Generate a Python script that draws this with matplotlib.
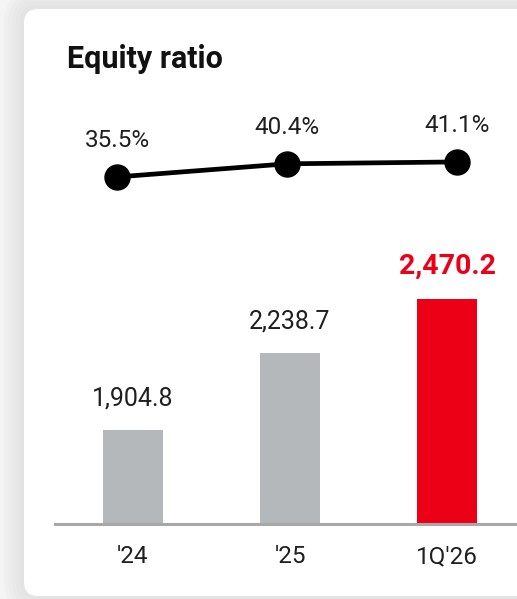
import matplotlib
matplotlib.use("Agg")
import matplotlib.pyplot as plt
from matplotlib.patches import FancyBboxPatch

plt.rcParams['font.family'] = ['Roboto', 'DejaVu Sans']

periods = ["'24", "'25", "1Q'26"]
equity = [1904.8, 2238.7, 2470.2]
equity_ratio = [35.5, 40.4, 41.1]

GRAY = '#b5b8ba'
RED = '#ec0016'
TEXT = '#1f1f1f'

W, H = 517, 599
fig = plt.figure(figsize=(W / 100, H / 100), dpi=100)
fig.patch.set_facecolor('#f4f4f4')

# soft shadow round the card
for i in range(5):
    grow = (5 - i) * 4
    sh = FancyBboxPatch(((24 - grow) / W, (4 - grow) / H), (520 + 2 * grow) / W, (586 + 2 * grow) / H,
                        boxstyle=f"round,pad=0,rounding_size={(14 + grow) / W}",
                        transform=fig.transFigure, facecolor='#9a9a9a', edgecolor='none',
                        alpha=0.035, mutation_aspect=W / H, zorder=-3)
    fig.patches.append(sh)

card = FancyBboxPatch((24 / W, 3 / H), 540 / W, 587 / H,
                      boxstyle=f"round,pad=0,rounding_size={14 / W}",
                      transform=fig.transFigure, facecolor='white', edgecolor='none',
                      mutation_aspect=W / H, zorder=-2)
fig.patches.append(card)

fig.text(67 / W, 1 - 68 / H, 'Equity ratio', fontsize=22, fontweight='bold',
         color='#111111', va='baseline', ha='left')

# bars
ax = fig.add_axes([54.5 / W, 75 / H, 471 / W, 278 / H])
ax.patch.set_visible(False)
x = range(len(periods))
colors = [GRAY, GRAY, RED]
ax.bar(x, equity, width=0.385, color=colors, zorder=2)
ax.set_xlim(-0.5, 2.5)
ax.set_ylim(1500, 2700)
for i, v in enumerate(equity):
    last = i == len(equity) - 1
    ax.annotate(f'{v:,.1f}', (i, v), xytext=(0, 14), textcoords='offset points',
                ha='center', va='bottom', fontsize=18 if not last else 20.5,
                fontweight='bold' if last else 'normal',
                color=RED if last else TEXT)
ax.set_xticks(list(x))
ax.set_xticklabels(periods, fontsize=17.5, color=TEXT)
ax.tick_params(axis='x', length=0, pad=15)
ax.set_yticks([])
for s in ['top', 'right', 'left']:
    ax.spines[s].set_visible(False)
ax.spines['bottom'].set_color('#a8a8a8')
ax.spines['bottom'].set_linewidth(2.2)
ax.spines['bottom'].set_zorder(3)

# equity ratio line
lx = fig.add_axes([32 / W, 399 / H, 510 / W, 100 / H])
lx.patch.set_visible(False)
lx.plot(range(len(equity_ratio)), equity_ratio, color='black', linewidth=3.4,
        marker='o', markersize=18, solid_capstyle='butt')
lx.set_xlim(-0.5, 2.5)
lx.set_ylim(26.9, 64.2)
for i, v in enumerate(equity_ratio):
    lx.annotate(f'{v}%', (i, v), xytext=(0, 26), textcoords='offset points',
                ha='center', va='center', fontsize=17.5, color=TEXT)
lx.axis('off')

fig.savefig('out.png', dpi=100)
